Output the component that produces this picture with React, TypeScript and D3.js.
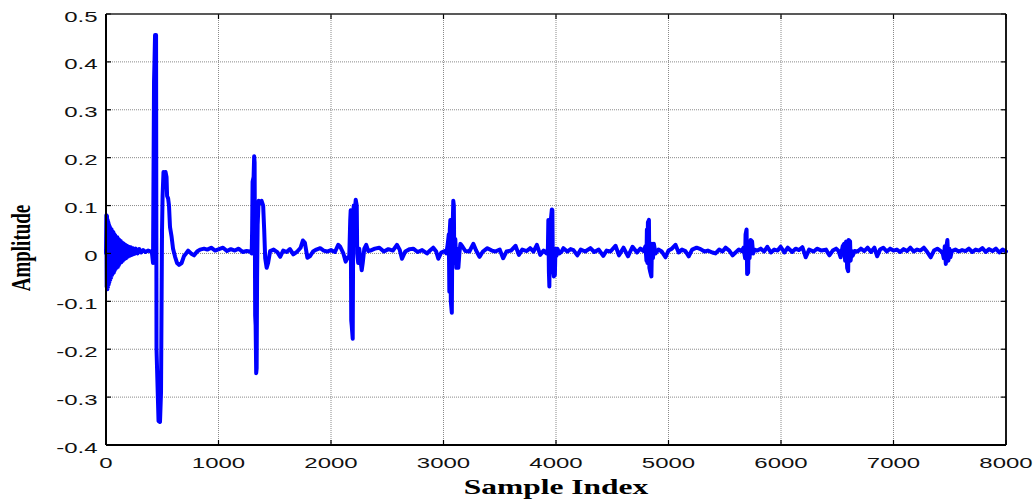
import React from 'react';
import * as d3 from 'd3';

const W = 1036;
const H = 499;
const PLOT = { left: 106, right: 1006, top: 14, bottom: 445 };

const xTicks = [0, 1000, 2000, 3000, 4000, 5000, 6000, 7000, 8000];
const yTicks = [-0.4, -0.3, -0.2, -0.1, 0, 0.1, 0.2, 0.3, 0.4, 0.5];
const xLabel = 'Sample Index';
const yLabel = 'Amplitude';

type P = [number, number];

// [sample index, amplitude]
const decayStart: P[] = [
  [0, 0.0], [3, 0.08], [6, -0.07], [9, 0.078], [12, -0.075], [15, 0.07], [18, -0.07],
  [21, 0.065], [24, -0.065], [27, 0.06], [30, -0.06], [34, 0.056], [38, -0.055], [42, 0.052],
  [46, -0.05], [50, 0.05], [54, -0.045], [58, 0.046], [62, -0.042], [66, 0.044], [70, -0.04],
  [74, 0.04], [78, -0.035], [82, 0.038], [86, -0.032], [90, 0.035], [95, -0.03], [100, 0.034],
  [105, -0.028], [110, 0.03], [115, -0.024], [120, 0.028], [125, -0.02], [131, 0.026],
  [137, -0.018], [143, 0.023], [150, -0.015], [157, 0.021], [164, -0.012], [171, 0.018],
  [178, -0.01], [186, 0.016], [194, -0.007], [202, 0.014], [211, -0.005], [220, 0.013],
  [230, -0.003], [240, 0.011], [252, -0.001], [265, 0.01], [280, 0.0], [296, 0.009],
  [312, 0.002], [330, 0.007], [350, 0.003], [375, 0.006], [400, 0.004],
];

const burst1: P[] = [
  [409, 0.0], [418, -0.02], [427, 0.36], [431, 0.4], [436, 0.456], [445, 0.456],
  [449, -0.2], [467, -0.35], [480, -0.352], [489, -0.29], [494, -0.1], [498, 0.05],
  [503, 0.12], [511, 0.17], [520, 0.163], [529, 0.17], [538, 0.16], [543, 0.12],
  [552, 0.115], [560, 0.1], [569, 0.055], [583, 0.035], [596, 0.01], [614, -0.007],
  [632, -0.02], [649, -0.024], [672, -0.02], [694, -0.005], [712, 0.0], [730, 0.006],
  [756, 0.0], [783, -0.004], [810, 0.004], [836, 0.008], [872, 0.01],
];

const quiet1: P[] = [
  [900, 0.008], [935, 0.012], [970, 0.006], [1005, 0.009], [1040, 0.012], [1075, 0.005],
  [1110, 0.009], [1145, 0.006], [1180, 0.01], [1215, 0.003], [1250, 0.005], [1280, 0.004],
];

const burst2: P[] = [
  [1295, 0.0], [1299, 0.05], [1303, 0.15], [1312, 0.16], [1317, 0.203], [1321, 0.19],
  [1326, -0.13], [1330, -0.15], [1335, -0.25], [1339, -0.24], [1343, -0.05], [1348, 0.06],
  [1357, 0.11], [1370, 0.105], [1383, 0.11], [1397, 0.1], [1406, 0.05], [1415, -0.01],
  [1428, -0.03], [1441, -0.02], [1459, 0.005],
];

const quiet2: P[] = [
  [1490, 0.008], [1525, 0.002], [1548, -0.007], [1575, 0.006], [1605, 0.003], [1635, 0.009],
  [1665, -0.002], [1700, 0.004], [1730, 0.012], [1750, 0.027], [1768, 0.022], [1790, -0.009],
  [1812, -0.006], [1840, 0.004], [1870, 0.008], [1904, 0.011], [1935, 0.006], [1965, 0.004],
  [2000, 0.007], [2035, 0.003], [2064, 0.018], [2082, 0.014], [2110, 0.0], [2130, -0.017],
  [2150, -0.008],
];

const burst3: P[] = [
  [2162, -0.01], [2171, 0.07], [2175, 0.09], [2180, -0.14], [2184, -0.15], [2193, -0.178],
  [2198, 0.08], [2202, 0.1], [2211, 0.09], [2220, 0.112], [2229, 0.1], [2233, 0.0],
  [2242, -0.02], [2251, 0.01], [2260, -0.01], [2273, -0.035], [2282, -0.02], [2296, 0.01],
  [2313, 0.018], [2331, 0.005],
];

const quiet3: P[] = [
  [2350, 0.006], [2390, 0.01], [2430, 0.012], [2470, 0.004], [2510, 0.009], [2550, 0.006],
  [2586, 0.018], [2610, 0.008], [2631, -0.011], [2660, 0.004], [2700, 0.009], [2731, 0.01],
  [2770, 0.003], [2810, 0.007], [2853, 0.0], [2880, 0.006], [2909, 0.012], [2935, 0.004],
  [2954, -0.011], [2980, 0.002], [3010, 0.005],
];

const burst4: P[] = [
  [3025, 0.0], [3038, 0.02], [3047, 0.04], [3052, -0.08], [3056, 0.05], [3061, 0.07],
  [3065, -0.1], [3074, -0.124], [3078, 0.02], [3087, 0.11], [3092, 0.1], [3096, -0.02],
  [3105, 0.03], [3114, -0.03], [3123, 0.01], [3132, -0.03], [3141, 0.0], [3150, 0.02],
  [3167, 0.015], [3194, 0.005],
];

const quiet4: P[] = [
  [3230, 0.004], [3265, 0.02], [3290, 0.006], [3320, -0.007], [3350, 0.004], [3390, 0.011],
  [3430, 0.006], [3460, 0.004], [3500, 0.008], [3530, -0.01], [3560, 0.004], [3600, 0.006],
  [3640, 0.016], [3670, -0.003], [3700, 0.008], [3740, 0.005], [3770, 0.011], [3800, 0.004],
  [3830, 0.018], [3860, -0.003], [3890, 0.006],
];

const burst5: P[] = [
  [3915, 0.0], [3928, 0.01], [3932, 0.07], [3937, -0.04], [3941, -0.069], [3946, 0.05],
  [3954, 0.07], [3963, 0.092], [3968, 0.09], [3972, -0.03], [3981, -0.048], [3990, -0.045],
  [3995, 0.01], [4004, -0.005], [4013, 0.01], [4030, 0.0],
];

const quiet5: P[] = [
  [4050, 0.004], [4066, 0.011], [4100, 0.004], [4130, 0.009], [4155, 0.007], [4190, -0.004],
  [4220, 0.008], [4260, 0.004], [4306, 0.011], [4340, 0.003], [4380, 0.008], [4420, -0.005],
  [4450, 0.006], [4484, 0.004], [4529, 0.016], [4560, -0.004], [4600, 0.012], [4640, -0.006],
  [4680, 0.014], [4720, 0.002], [4750, 0.01],
];

const burst6: P[] = [
  [4777, 0.005], [4795, 0.015], [4804, -0.015], [4808, 0.05], [4813, -0.02], [4817, 0.065],
  [4826, 0.07], [4830, -0.03], [4839, -0.04], [4848, -0.048], [4853, 0.02], [4862, -0.01],
  [4870, 0.02], [4884, 0.0],
];

const quiet6: P[] = [
  [4910, 0.008], [4940, 0.004], [4973, -0.008], [5000, 0.006], [5030, 0.01], [5062, 0.018],
  [5090, 0.002], [5120, 0.008], [5150, 0.005], [5180, -0.006], [5210, 0.008], [5250, 0.012],
  [5285, 0.009], [5320, 0.004], [5350, 0.006], [5390, 0.002], [5418, 0.0], [5450, 0.008],
  [5480, 0.004], [5507, 0.012], [5540, 0.006], [5570, -0.004], [5596, 0.002], [5625, 0.008],
];

const burst7: P[] = [
  [5649, 0.005], [5667, 0.012], [5681, -0.01], [5685, 0.04], [5694, 0.05], [5699, -0.043],
  [5708, -0.04], [5712, 0.02], [5721, -0.01], [5730, 0.028], [5743, 0.025], [5752, 0.0],
  [5765, 0.008],
];

const quiet7: P[] = [
  [5790, 0.006], [5820, 0.01], [5850, 0.004], [5878, 0.014], [5910, 0.002], [5940, 0.008],
  [5970, 0.006], [5997, 0.014], [6030, 0.002], [6060, 0.012], [6100, 0.003], [6130, 0.01],
  [6160, 0.007], [6190, 0.013], [6220, -0.008], [6250, 0.008], [6290, 0.004], [6320, 0.01],
  [6360, 0.006], [6400, 0.008], [6430, -0.004], [6460, 0.006], [6490, 0.01],
];

const burst8: P[] = [
  [6512, 0.005], [6530, -0.008], [6548, 0.015], [6561, 0.02], [6570, -0.015], [6579, 0.025],
  [6588, -0.03], [6597, -0.037], [6601, 0.028], [6614, 0.025], [6619, -0.015], [6628, 0.005],
  [6637, -0.005], [6655, 0.005],
];

const quiet8: P[] = [
  [6680, 0.004], [6710, 0.01], [6740, 0.005], [6770, 0.012], [6800, 0.003], [6830, 0.012],
  [6855, -0.006], [6880, 0.008], [6910, 0.012], [6940, 0.004], [6970, 0.01], [7000, 0.006],
  [7030, 0.008], [7060, 0.003], [7090, 0.009], [7120, 0.005], [7150, 0.012], [7180, 0.004],
  [7210, 0.008], [7240, 0.006], [7270, 0.012], [7300, 0.003], [7330, -0.008], [7360, 0.006],
  [7390, 0.01],
];

const burst9: P[] = [
  [7420, 0.005], [7438, 0.0], [7447, -0.01], [7456, 0.015], [7465, -0.022], [7474, 0.02],
  [7479, 0.028], [7488, -0.015], [7497, 0.01], [7506, -0.008], [7519, 0.005],
];

const quiet9: P[] = [
  [7550, 0.008], [7580, 0.004], [7610, 0.007], [7640, 0.005], [7670, 0.01], [7700, 0.003],
  [7730, 0.008], [7760, 0.006], [7790, 0.011], [7820, 0.003], [7850, 0.009], [7880, 0.005],
  [7910, 0.01], [7940, 0.002], [7970, 0.008], [8000, 0.004],
];

const signal: P[] = [
  ...decayStart, ...burst1, ...quiet1, ...burst2, ...quiet2, ...burst3, ...quiet3,
  ...burst4, ...quiet4, ...burst5, ...quiet5, ...burst6, ...quiet6, ...burst7, ...quiet7,
  ...burst8, ...quiet8, ...burst9, ...quiet9,
];

export default function App() {
  const x = d3.scaleLinear().domain([0, 8000]).range([PLOT.left, PLOT.right]);
  const y = d3.scaleLinear().domain([-0.4, 0.5]).range([PLOT.bottom, PLOT.top]);
  const line = d3.line<P>().x((d) => x(d[0])).y((d) => y(d[1]));
  const fmtY = (v: number) => (Math.abs(v) < 1e-9 ? '0' : d3.format('.1f')(v).replace('−', '-'));
  const tickFont = "'Liberation Sans', Arial, sans-serif";
  const labelFont = "'Liberation Serif', 'Times New Roman', serif";
  const tickLen = 5;
  const sx = 1.6; // horizontal stretch of the original image

  return (
    <svg
      width={W}
      height={H}
      viewBox={`0 0 ${W} ${H}`}
      style={{ position: 'absolute', left: 0, top: 0, background: '#fff' }}
    >
      <rect x={0} y={0} width={W} height={H} fill="#fff" />
      {/* grid */}
      <g stroke="#8a8a8a" strokeWidth={1} strokeDasharray="1,1">
        {xTicks.slice(1, -1).map((t) => (
          <line key={`gx${t}`} x1={x(t)} x2={x(t)} y1={PLOT.top} y2={PLOT.bottom} />
        ))}
        {yTicks.slice(1, -1).map((t) => (
          <line key={`gy${t}`} x1={PLOT.left} x2={PLOT.right} y1={y(t)} y2={y(t)} />
        ))}
      </g>
      {/* signal */}
      <path
        d={line(signal) || ''}
        fill="none"
        stroke="#0000ff"
        strokeWidth={4}
        strokeLinejoin="round"
        strokeLinecap="round"
      />
      {/* ticks */}
      <g stroke="#000" strokeWidth={1.2}>
        {xTicks.map((t) => (
          <g key={`tx${t}`}>
            <line x1={x(t)} x2={x(t)} y1={PLOT.bottom} y2={PLOT.bottom - tickLen} />
            <line x1={x(t)} x2={x(t)} y1={PLOT.top} y2={PLOT.top + tickLen} />
          </g>
        ))}
        {yTicks.map((t) => (
          <g key={`ty${t}`}>
            <line x1={PLOT.left} x2={PLOT.left + tickLen} y1={y(t)} y2={y(t)} />
            <line x1={PLOT.right} x2={PLOT.right - tickLen} y1={y(t)} y2={y(t)} />
          </g>
        ))}
      </g>
      {/* axes box */}
      <line x1={PLOT.left} x2={PLOT.right} y1={PLOT.top} y2={PLOT.top} stroke="#222" strokeWidth={1.5} />
      <line x1={PLOT.right} x2={PLOT.right} y1={PLOT.top} y2={PLOT.bottom} stroke="#000" strokeWidth={1.8} />
      <line x1={PLOT.left} x2={PLOT.left} y1={PLOT.top} y2={PLOT.bottom} stroke="#000" strokeWidth={2} />
      <line x1={PLOT.left} x2={PLOT.right} y1={PLOT.bottom} y2={PLOT.bottom} stroke="#000" strokeWidth={2} />
      {/* tick labels */}
      <g fontFamily={tickFont} fontSize={15} fill="#111">
        {xTicks.map((t) => (
          <text
            key={`lx${t}`}
            transform={`translate(${x(t)}, 467.5) scale(${sx}, 1)`}
            textAnchor="middle"
          >
            {String(t)}
          </text>
        ))}
        {yTicks.map((t) => (
          <text
            key={`ly${t}`}
            transform={`translate(97.5, ${y(t) + 7.5}) scale(${sx}, 1)`}
            textAnchor="end"
          >
            {fmtY(t)}
          </text>
        ))}
      </g>
      {/* axis labels */}
      <text
        transform={`translate(556, 494) scale(1.5, 1)`}
        textAnchor="middle"
        fontFamily={labelFont}
        fontWeight="bold"
        fontSize={21}
        fill="#000"
      >
        {xLabel}
      </text>
      <text
        transform={`translate(30, 248) scale(1.45, 1) rotate(-90)`}
        textAnchor="middle"
        fontFamily={labelFont}
        fontWeight="bold"
        fontSize={19}
        fill="#000"
      >
        {yLabel}
      </text>
    </svg>
  );
}
